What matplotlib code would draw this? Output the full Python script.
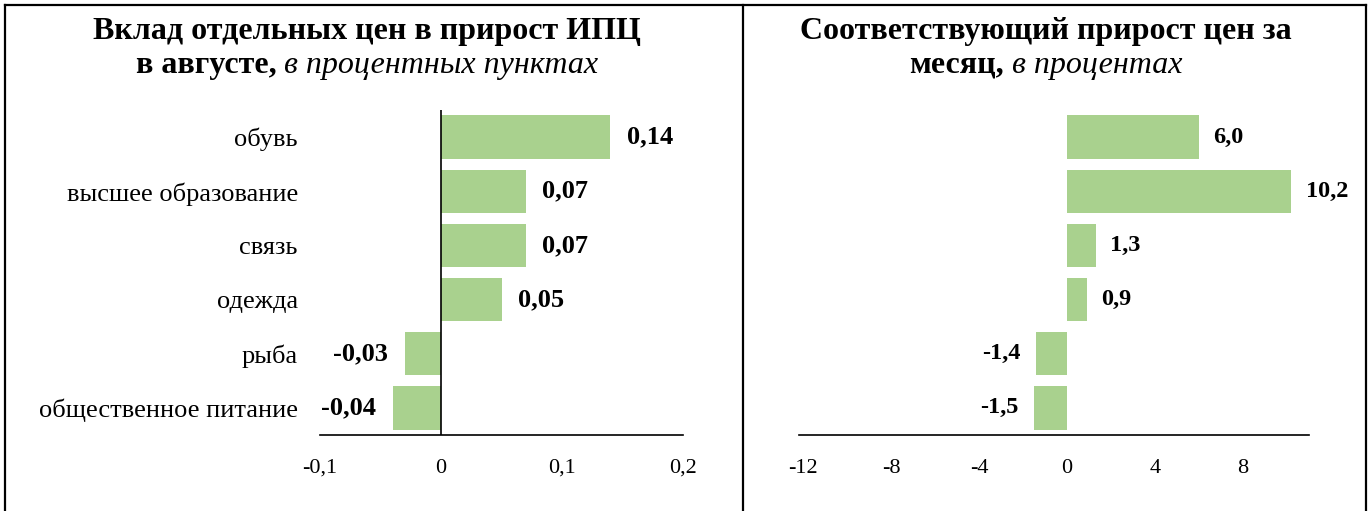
import matplotlib
matplotlib.use("Agg")
import matplotlib.pyplot as plt
from matplotlib.lines import Line2D

plt.rcParams['font.family'] = ['Liberation Serif', 'DejaVu Serif']

categories = ["обувь", "высшее образование", "связь", "одежда", "рыба", "общественное питание"]
contrib = [0.14, 0.07, 0.07, 0.05, -0.03, -0.04]
contrib_labels = ["0,14", "0,07", "0,07", "0,05", "-0,03", "-0,04"]
growth = [6.0, 10.2, 1.3, 0.9, -1.4, -1.5]
growth_labels = ["6,0", "10,2", "1,3", "0,9", "-1,4", "-1,5"]
left_ticks = [-0.1, 0, 0.1, 0.2]
left_ticklabels = ["-0,1", "0", "0,1", "0,2"]
right_ticks = [-12, -8, -4, 0, 4, 8]
right_ticklabels = ["-12", "-8", "-4", "0", "4", "8"]

W, H = 1370, 511
fig = plt.figure(figsize=(W / 100, H / 100), dpi=100)
GREEN = "#a9d18e"

def fx(px):
    return px / W

def fy(py):
    return 1 - py / H

y_top, y_bot = 110, 435
axL = fig.add_axes([fx(320), fy(y_bot), fx(683) - fx(320), fy(y_top) - fy(y_bot)])
axR = fig.add_axes([fx(798.6), fy(y_bot), fx(1309) - fx(798.6), fy(y_top) - fy(y_bot)])

ypos = list(range(len(categories)))

def style(ax):
    for s in ["top", "right", "left"]:
        ax.spines[s].set_visible(False)
    ax.spines["bottom"].set_linewidth(1.2)
    ax.spines["bottom"].set_color("black")
    ax.set_ylim(len(categories) - 0.5, -0.5)
    ax.tick_params(axis="both", length=0)
    ax.tick_params(axis="x", pad=17, labelsize=16)

# Left panel
axL.barh(ypos, contrib, height=0.8, color=GREEN, zorder=2)
style(axL)
axL.set_xlim(-0.1, 0.2)
axL.set_xticks(left_ticks)
axL.set_xticklabels(left_ticklabels)
axL.set_yticks(ypos)
axL.set_yticklabels(categories, fontsize=19)
axL.tick_params(axis="y", pad=16)
axL.axvline(0, color="black", lw=1.2, zorder=3)
for y, v, lab in zip(ypos, contrib, contrib_labels):
    axL.annotate(lab, (v, y), xytext=(12 if v >= 0 else -12, 0), textcoords="offset points",
                 ha="left" if v >= 0 else "right", va="center", fontsize=19, fontweight="bold")

# Right panel
axR.barh(ypos, growth, height=0.8, color=GREEN, zorder=2)
style(axR)
axR.set_xlim(-12.2, 11)
axR.set_xticks(right_ticks)
axR.set_xticklabels(right_ticklabels)
axR.set_yticks([])
for y, v, lab in zip(ypos, growth, growth_labels):
    axR.annotate(lab, (v, y), xytext=(10.5 if v >= 0 else -11, 0), textcoords="offset points",
                 ha="left" if v >= 0 else "right", va="center", fontsize=17.5, fontweight="bold")

# Titles (bold + italic mixed)
renderer = fig.canvas.get_renderer()

def mixed_line(xc, yp, bold_txt, ital_txt, size):
    if not ital_txt:
        fig.text(fx(xc), fy(yp), bold_txt, ha="center", va="baseline", fontsize=size, fontweight="bold")
        return
    tb = fig.text(0, 0, bold_txt, fontsize=size, fontweight="bold")
    ti = fig.text(0, 0, " " + ital_txt, fontsize=size, fontstyle="italic")
    wb = tb.get_window_extent(renderer).width
    wi = ti.get_window_extent(renderer).width
    tb.remove(); ti.remove()
    start = xc - (wb + wi) / 2
    fig.text(fx(start), fy(yp), bold_txt, ha="left", va="baseline", fontsize=size, fontweight="bold")
    fig.text(fx(start + wb), fy(yp), " " + ital_txt, ha="left", va="baseline", fontsize=size, fontstyle="italic")

TS = 23
mixed_line(367, 39, "Вклад отдельных цен в прирост ИПЦ", "", TS)
mixed_line(367, 73, "в августе,", "в процентных пунктах", TS)
mixed_line(1046, 39, "Соответствующий прирост цен за", "", TS)
mixed_line(1046, 73, "месяц,", "в процентах", TS)

# Frame lines
lw = 1.6
fig.add_artist(Line2D([fx(5), fx(1366)], [fy(5), fy(5)], color="black", lw=lw))
fig.add_artist(Line2D([fx(5), fx(5)], [fy(5), 0], color="black", lw=lw))
fig.add_artist(Line2D([fx(1366), fx(1366)], [fy(5), 0], color="black", lw=lw))
fig.add_artist(Line2D([fx(743), fx(743)], [fy(5), 0], color="black", lw=lw))

fig.savefig("out.png", dpi=100)
